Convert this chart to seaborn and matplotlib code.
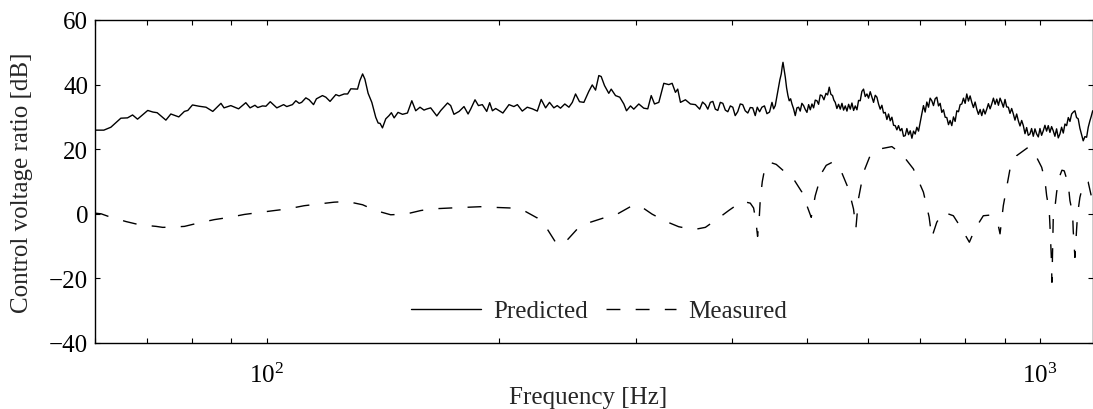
import numpy as np
import pandas as pd
import matplotlib
matplotlib.use("Agg")
import matplotlib.pyplot as plt
import seaborn as sns

# Predicted control voltage ratio (frequency in Hz, level in dB)
pred_freq = [
    60.0, 61.6, 62.9, 64.8, 66.1, 67.1, 68.1, 70.2, 71.3, 72.2, 74.1, 75.2, 77.0, 78.3, 79.1,
    80.2, 81.8, 83.5, 85.2, 87.3, 88.1, 89.9, 92.0, 94.0, 95.2, 96.6, 97.4, 98.8, 99.8, 101.1,
    103.1, 105.2, 106.2, 108.0, 109.1, 110.2, 111.0, 112.4, 113.5, 115.0, 116.0, 118.1, 119.3,
    120.8, 122.9, 124.1, 126.0, 127.3, 128.5, 131.1, 132.0, 133.1, 134.0, 135.3, 136.8, 138.4,
    139.4, 140.2, 141.2, 142.6, 144.0, 145.0, 146.2, 147.9, 149.9, 152.1, 154.1, 155.9, 157.9,
    159.8, 160.9, 163.0, 166.0, 168.0, 171.4, 173.0, 174.7, 177.4, 180.0, 182.2, 183.6, 186.0,
    187.9, 190.1, 192.6, 194.3, 195.9, 197.8, 202.1, 205.8, 208.8, 211.0, 214.1, 217.3, 220.6,
    223.9, 226.5, 229.5, 232.2, 235.2, 237.6, 239.9, 243.0, 246.0, 248.5, 250.9, 253.9, 257.2,
    261.0, 263.7, 266.3, 268.9, 270.8, 273.5, 277.0, 279.0, 282.6, 286.2, 289.7, 292.0, 295.5,
    298.4, 302.9, 307.4, 311.1, 314.3, 317.4, 321.5, 326.3, 331.2, 334.5, 337.8, 340.1, 342.9,
    348.0, 353.2, 358.5, 363.1, 366.2, 369.3, 372.0, 374.8, 377.6, 380.4, 383.2, 386.1, 389.0,
    391.9, 394.8, 397.8, 400.7, 403.6, 406.6, 409.7, 412.7, 415.8, 419.0, 422.1, 425.2, 428.4,
    431.0, 434.0, 437.0, 440.3, 443.6, 447.0, 450.3, 452.5, 454.7, 457.0, 459.2, 461.0, 462.9,
    464.2, 465.3, 466.8, 468.5, 470.3, 472.2, 474.0, 476.0, 477.9, 480.2, 482.6, 485.0, 487.4,
    489.8, 492.2, 494.7, 497.2, 499.7, 502.2, 504.7, 507.2, 509.7, 512.2, 514.8, 517.3, 519.9,
    522.5, 525.6, 528.8, 531.4, 534.0, 536.6, 539.3, 541.4, 543.6, 546.3, 549.0, 551.8, 554.6,
    557.3, 560.1, 562.9, 565.7, 568.5, 571.3, 574.2, 577.0, 579.9, 582.7, 585.6, 588.5, 591.4,
    594.4, 597.4, 600.3, 603.3, 606.3, 609.3, 612.4, 615.4, 618.4, 621.5, 624.6, 627.7, 630.8,
    634.0, 637.1, 640.3, 643.5, 646.7, 649.9, 653.1, 656.3, 659.6, 662.9, 666.2, 669.5, 672.8,
    676.2, 679.6, 683.0, 686.3, 689.7, 693.1, 696.6, 700.0, 703.4, 706.9, 710.5, 714.0, 717.6,
    721.1, 724.7, 728.3, 731.9, 735.6, 739.3, 742.9, 746.6, 750.3, 754.1, 757.8, 761.6, 765.3,
    769.1, 773.0, 776.8, 780.7, 784.6, 788.5, 792.4, 796.3, 800.3, 804.2, 808.2, 812.2, 816.3,
    820.3, 824.4, 828.5, 832.6, 836.8, 840.9, 845.1, 849.3, 853.5, 857.7, 862.0, 866.3, 870.6,
    875.0, 879.3, 883.7, 888.0, 892.4, 896.8, 901.2, 905.6, 910.1, 914.6, 919.2, 923.8, 928.3,
    933.0, 937.6, 942.3, 947.0, 951.7, 956.4, 961.1, 965.8, 970.6, 975.4, 980.3, 985.2, 990.2,
    995.1, 1000.0, 1004.9, 1009.9, 1014.9, 1019.9, 1025.0, 1030.1, 1035.2, 1040.3, 1045.5,
    1050.7, 1056.0, 1061.2, 1066.5, 1071.9, 1077.2, 1082.6, 1088.0, 1093.4, 1098.9, 1104.3,
    1109.7, 1115.1, 1120.6, 1126.2, 1131.8, 1137.4, 1143.2, 1149.0, 1154.6, 1160.3, 1165.0, 1170.0,
]
pred_db = [
    25.9, 25.9, 26.8, 29.6, 29.7, 30.6, 29.3, 32.0, 31.5, 31.3, 29.0, 30.9, 30.0, 31.7, 32.0,
    33.7, 33.3, 33.0, 31.7, 34.2, 32.8, 33.5, 32.5, 34.4, 32.8, 33.6, 32.9, 33.4, 33.3, 34.7,
    32.8, 33.8, 33.2, 33.8, 35.0, 34.2, 34.5, 35.9, 35.3, 33.8, 35.6, 36.6, 36.1,
    34.8, 36.9, 36.5, 37.1, 37.1, 38.7, 38.6, 41.2, 43.3, 41.7, 37.3, 34.5, 29.9,
    28.1, 28.0, 26.6, 29.4, 30.4, 31.3, 29.7, 31.4, 30.8, 31.2, 35.0, 31.9, 33.0,
    32.1, 32.4, 32.8, 30.3, 32.0, 34.3, 33.5, 30.8, 31.7, 33.2, 30.9, 32.4, 35.3,
    33.5, 33.8, 31.7, 34.4, 31.9, 32.6, 31.2, 33.8, 33.2, 33.8, 31.8, 33.0, 32.5,
    31.8, 35.4, 32.8, 34.5, 32.8, 33.5, 32.7, 34.0, 33.0, 34.5, 37.1, 34.7, 34.5,
    37.9, 39.9, 38.3, 42.8, 42.5, 39.7, 37.3, 38.6, 36.6, 36.1, 34.0, 31.9, 33.4,
    32.4, 34.0, 32.7, 32.5, 36.6, 34.0, 34.5, 40.4, 40.0, 40.4, 37.6, 38.6, 34.5,
    35.3, 34.0, 33.8, 32.4, 34.6, 33.8, 32.4, 34.5, 34.8, 32.4, 32.0, 34.5, 34.2,
    32.1, 31.6, 33.4, 33.0, 30.4, 31.6, 34.0, 33.8, 31.9, 31.2, 32.9, 32.8, 30.4,
    33.0, 31.6, 33.0, 33.4, 31.0, 31.5, 34.5, 32.5, 33.5, 36.5, 39.2, 41.5, 43.3,
    45.5, 46.9, 44.8, 42.3, 39.0, 36.6, 35.0, 35.6, 34.0, 32.5, 30.4, 32.8, 33.0,
    31.8, 34.2, 33.5, 32.3, 31.4, 33.8, 32.2, 34.0, 32.8, 35.2, 35.0, 33.9, 36.8,
    36.6, 35.3, 37.3, 36.8, 39.2, 37.0, 36.6, 35.2, 34.5, 32.6, 33.9, 32.4, 34.2,
    32.1, 33.4, 31.8, 33.9, 32.4, 34.3, 32.0, 33.4, 32.2, 35.1, 35.0, 37.9, 38.6,
    36.3, 37.1, 35.8, 37.8, 36.1, 34.5, 36.7, 36.1, 34.0, 32.4, 33.6, 31.2, 31.4,
    29.2, 30.9, 28.8, 29.9, 27.4, 27.3, 26.0, 27.3, 25.7, 26.4, 24.0, 24.2, 26.4,
    24.5, 25.7, 23.4, 25.6, 24.7, 26.8, 25.6, 28.3, 30.9, 33.5, 31.5, 34.6, 33.0,
    35.8, 35.0, 33.5, 35.6, 36.1, 33.4, 34.2, 31.4, 32.2, 29.9, 29.8, 27.6, 28.9,
    27.3, 30.0, 28.6, 31.9, 31.6, 33.8, 34.0, 35.8, 34.2, 37.1, 34.9, 36.5, 34.5,
    32.9, 34.6, 32.4, 30.8, 32.3, 30.4, 32.4, 30.9, 32.4, 34.1, 32.5, 34.0, 35.8,
    33.9, 35.5, 33.6, 35.8, 34.5, 33.0, 35.4, 33.1, 33.0, 31.1, 32.6, 30.9, 29.0,
    30.9, 28.8, 27.2, 28.9, 27.3, 24.8, 26.7, 24.3, 24.7, 26.4, 24.0, 26.3, 24.7,
    23.8, 26.4, 24.3, 25.7, 27.4, 25.6, 27.3, 25.2, 27.0, 25.7, 24.0,
    26.3, 23.5, 24.7, 26.8, 25.0, 27.8, 27.3, 29.8, 28.6, 30.9, 31.5,
    31.9, 29.8, 29.4, 26.5, 24.5, 22.6, 23.9, 23.7, 26.8, 28.8, 30.2, 31.9,
]

# Measured control voltage ratio
meas_freq = [
    60.0, 61.1, 62.6, 65.8, 68.5, 72.0, 73.4, 75.7, 78.3, 81.8, 85.6, 89.5, 93.6, 97.8, 102.3,
    106.4, 111.8, 116.4, 122.3, 127.2, 133.1, 138.4, 144.7, 151.3, 158.2, 163.0, 173.0, 189.1,
    196.7, 206.8, 215.1, 223.9, 230.6, 236.4, 239.9, 244.8, 253.3, 262.3, 274.3, 284.0, 296.9,
    302.9, 315.1, 327.9, 341.1, 356.6, 369.3, 384.2, 395.8, 411.9, 422.1, 426.3, 429.1, 431.4,
    433.6, 434.9, 437.5, 441.4, 448.0, 456.0, 466.1, 480.1, 492.3, 499.7, 506.1, 512.2, 522.5,
    529.2, 538.2, 551.7, 565.5, 574.0, 578.1, 582.5, 591.3, 603.1, 621.4, 643.4, 662.8, 686.0,
    706.8, 718.9, 724.7, 735.5, 750.1, 772.7, 792.3, 810.4, 824.2, 844.8, 861.8, 883.4, 887.9,
    896.6, 914.7, 933.0, 965.7, 985.2, 1005.1, 1015.0, 1020.1, 1028.0, 1030.2, 1034.2, 1036.3,
    1040.3, 1045.6, 1050.9, 1059.1, 1067.6, 1074.9, 1087.8, 1093.3, 1102.1, 1104.1, 1109.7,
    1115.3, 1118.6, 1126.3, 1137.4, 1146.5, 1154.4, 1166.1, 1170.0,
]
meas_db = [
    0.2, 0.0, -0.9, -2.4, -3.4, -3.9, -4.2, -4.1, -3.9, -2.8, -1.8, -1.1, -0.2, 0.4, 1.0,
    1.5, 2.5, 3.0, 3.6, 3.8, 2.8, 1.0, -0.3, -0.1, 1.0, 1.5, 1.8, 2.2,
    2.0, 1.8, 1.0, -1.3, -4.7, -8.8, -9.6, -8.1, -4.2, -2.6, -1.1, -0.1, 2.5,
    2.7, -0.1, -2.3, -4.0, -4.9, -4.2, -1.3, 1.0, 3.9, 3.3, 1.8, -2.0, -7.0,
    -1.0, 4.6, 10.0, 14.9, 15.9, 15.3, 13.3, 10.8, 6.7, 2.5, -1.1, 5.6, 12.8,
    15.0, 15.9, 13.9, 7.7, 1.5, -4.5, 4.6, 12.8, 18.0, 20.1, 20.8, 18.5, 13.9,
    6.7, -1.0, -7.3, -2.6, 0.5, -0.6, -4.7, -8.8, -4.7, -0.6, -0.4, -3.7, -6.2,
    2.5, 13.9, 18.0, 20.6, 18.5, 14.4, 10.3, 5.6, 1.0, -3.7, -13.0, -21.2,
    -1.6, 2.0, 6.7, 11.3, 13.5, 13.3, 9.2, 4.1, 0.0, -5.2, -13.5,
    -4.7, 0.0, 5.1, 9.2, 10.0, 9.8, 5.1, 3.0,
]

pred = pd.DataFrame({"Frequency": pred_freq, "dB": pred_db})
meas = pd.DataFrame({"Frequency": meas_freq, "dB": meas_db})

sns.set_style("ticks")
plt.rcParams["font.family"] = ["Liberation Serif", "DejaVu Serif"]
plt.rcParams["mathtext.fontset"] = "stix"
plt.rcParams["font.size"] = 18

fig = plt.figure(figsize=(10.93, 4.10), dpi=100)
ax = fig.add_axes([95 / 1093, 66 / 410, 997.7 / 1093, 323 / 410])

sns.lineplot(data=pred, x="Frequency", y="dB", ax=ax, color="black", linewidth=1.0,
             sort=False, estimator=None, label="Predicted")
sns.lineplot(data=meas, x="Frequency", y="dB", ax=ax, color="black", linewidth=1.0,
             sort=False, estimator=None, linestyle=(0, (10, 11)), label="Measured")

ax.set_xscale("log")
ax.set_xlim(60, 1170)
ax.set_ylim(-40, 60)
ax.set_yticks([-40, -20, 0, 20, 40, 60])

ax.set_xlabel("Frequency [Hz]", fontsize=18)
ax.set_ylabel("Control voltage ratio [dB]", fontsize=18)
ax.xaxis.set_label_coords(0.494, -0.133)
ax.yaxis.set_label_coords(-0.062, 0.5)

for s in ax.spines.values():
    s.set_linewidth(1.0)
    s.set_color("black")
ax.tick_params(which="both", direction="in", top=True, right=True, width=0.8,
               labelsize=18, colors="black")
ax.tick_params(which="major", length=3.5)
ax.tick_params(which="minor", length=3.5)
ax.tick_params(axis="x", pad=14)
ax.tick_params(axis="y", pad=5)

ax.legend(loc="center", bbox_to_anchor=(0.505, 0.099), ncol=2, frameon=False,
          handlelength=2.8, handletextpad=0.5, columnspacing=0.7, fontsize=18)

fig.savefig("out.png", dpi=100)
